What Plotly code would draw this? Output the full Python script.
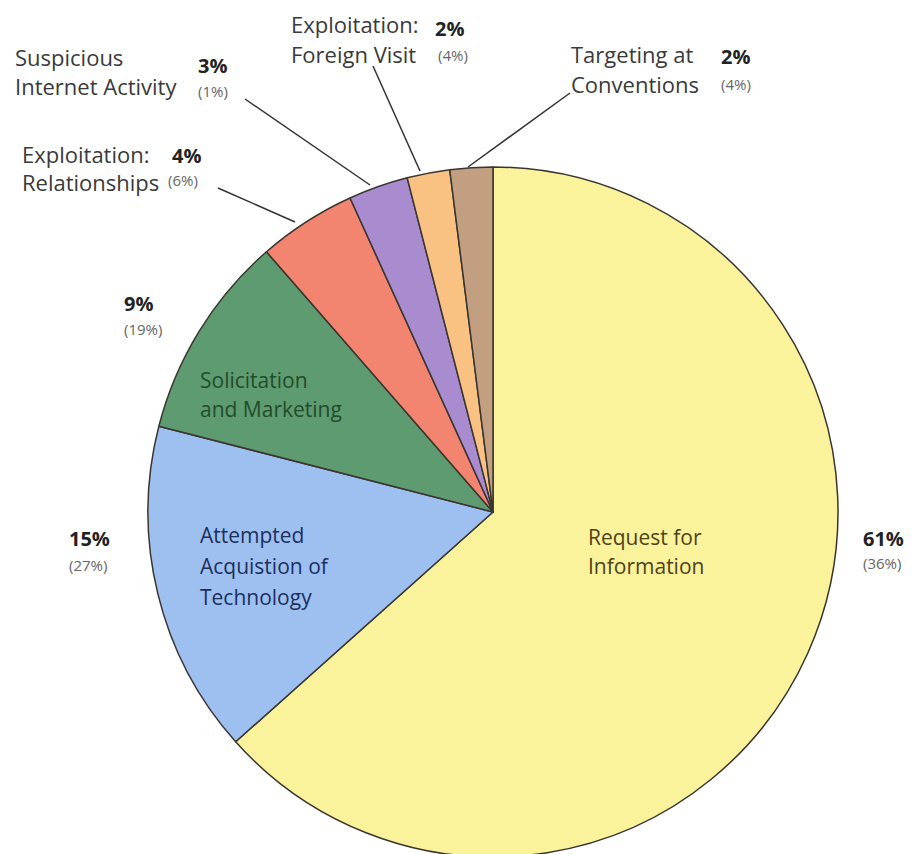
import plotly.graph_objects as go

# ---- data ----
categories = ["Request for Information", "Attempted Acquistion of Technology",
              "Solicitation and Marketing", "Exploitation: Relationships",
              "Suspicious Internet Activity", "Exploitation: Foreign Visit",
              "Targeting at Conventions"]
values = [63.4, 15.6, 9.6, 4.6, 2.8, 2.0, 2.0]
pct_labels = ["61%", "15%", "9%", "4%", "3%", "2%", "2%"]
prior_labels = ["(36%)", "(27%)", "(19%)", "(6%)", "(1%)", "(4%)", "(4%)"]
colors = ["#FBF29C", "#9EC0F0", "#5F9B70", "#F28470", "#A98BCF", "#F9C283", "#C29F80"]

W, H = 917, 854
OFF = 8  # page body margin
FONT = "Open Sans"


def px(x, y):
    return (x - OFF) / W, 1 - (y - OFF) / H


CX, CY, R = 493 - OFF, 512 - OFF, 345
fig = go.Figure(go.Pie(
    labels=categories, values=values, sort=False, direction="clockwise",
    rotation=0, marker=dict(colors=colors, line=dict(color="#3a3530", width=1.5)),
    textinfo="none", hoverinfo="label+percent", showlegend=False,
    domain=dict(x=[(CX - R) / W, (CX + R) / W],
                y=[(H - CY - R) / H, (H - CY + R) / H]),
))

annotations = []


def txt(text, x, y, size, color, bold=False, anchor="left"):
    ax, ay = px(x, y)
    annotations.append(dict(
        text=f"<b>{text}</b>" if bold else text, x=ax, y=ay, xref="paper", yref="paper",
        xanchor=anchor, yanchor="middle", showarrow=False, borderpad=0,
        font=dict(family=FONT, size=size, color=color)))


NAME = "#3a3a3a"
PCT = "#222222"
PRI = "#666666"
NS, IS, PS, RS = 22, 21, 20, 15

# Request for Information (inside + outside)
txt("Request for", 587, 537, IS, "#4d4419")
txt("Information", 587, 566, IS, "#4d4419")
txt(pct_labels[0], 862, 538, PS, PCT, bold=True)
txt(prior_labels[0], 862, 563, RS, PRI)

# Attempted Acquistion of Technology
txt("Attempted", 199, 535, IS, "#1c2f5e")
txt("Acquistion of", 199, 566, IS, "#1c2f5e")
txt("Technology", 199, 597, IS, "#1c2f5e")
txt(pct_labels[1], 68, 538, PS, PCT, bold=True)
txt(prior_labels[1], 68, 565, RS, PRI)

# Solicitation and Marketing
txt("Solicitation", 199, 380, IS, "#1f4d2c")
txt("and Marketing", 199, 409, IS, "#1f4d2c")
txt(pct_labels[2], 123, 303, PS, PCT, bold=True)
txt(prior_labels[2], 123, 329, RS, PRI)

# Exploitation: Relationships
txt("Exploitation:", 21, 154, NS, NAME)
txt("Relationships", 21, 182, NS, NAME)
txt(pct_labels[3], 171, 156, PS, PCT, bold=True)
txt(prior_labels[3], 167, 180, RS, PRI)

# Suspicious Internet Activity
txt("Suspicious", 14, 57, NS, NAME)
txt("Internet Activity", 14, 86, NS, NAME)
txt(pct_labels[4], 197, 66, PS, PCT, bold=True)
txt(prior_labels[4], 197, 91, RS, PRI)

# Exploitation: Foreign Visit
txt("Exploitation:", 290, 24, NS, NAME)
txt("Foreign Visit", 290, 54, NS, NAME)
txt(pct_labels[5], 434, 28, PS, PCT, bold=True)
txt(prior_labels[5], 437, 55, RS, PRI)

# Targeting at Conventions
txt("Targeting at", 570, 54, NS, NAME)
txt("Conventions", 570, 84, NS, NAME)
txt(pct_labels[6], 720, 57, PS, PCT, bold=True)
txt(prior_labels[6], 720, 84, RS, PRI)

# leader lines
leaders = [((218, 188), (295, 222)),
           ((245, 99), (370, 185)),
           ((373, 66), (420, 171)),
           ((570, 93), (468, 167))]
shapes = []
for (x0, y0), (x1, y1) in leaders:
    a0, b0 = px(x0, y0)
    a1, b1 = px(x1, y1)
    shapes.append(dict(type="line", xref="paper", yref="paper", x0=a0, y0=b0, x1=a1, y1=b1,
                       line=dict(color="#333333", width=1.5)))

fig.update_layout(
    width=W, height=H, margin=dict(l=0, r=0, t=0, b=0),
    paper_bgcolor="white", plot_bgcolor="white",
    annotations=annotations, shapes=shapes,
)

fig.write_html("out.html")
